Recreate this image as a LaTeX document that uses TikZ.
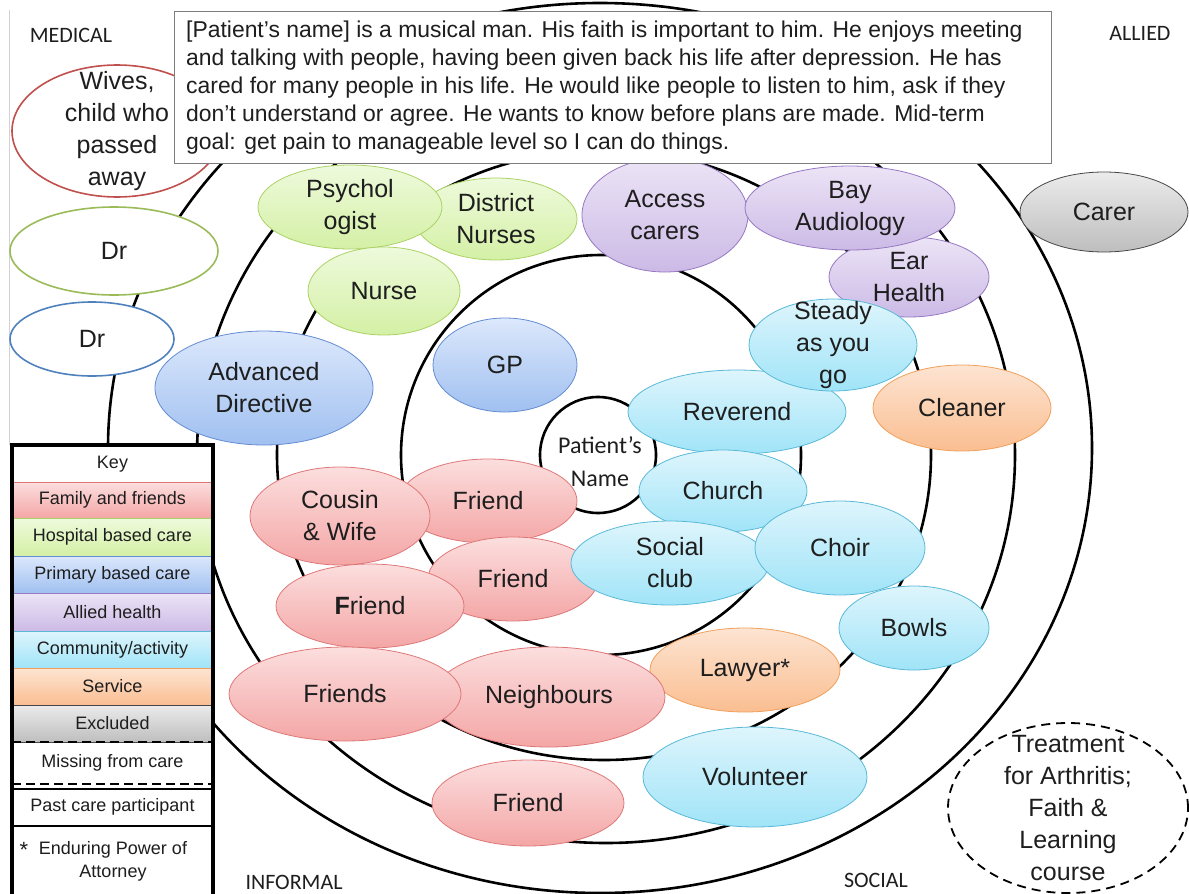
\documentclass[tikz,border=0pt]{standalone}
\usepackage{fontspec}
\setmainfont{Liberation Sans}
\newfontfamily\calfont{Carlito}
\usetikzlibrary{shapes.geometric}

\definecolor{famtop}{RGB}{252,222,222}
\definecolor{fambot}{RGB}{244,166,166}
\definecolor{famline}{RGB}{222,120,120}
\definecolor{hosptop}{RGB}{238,250,220}
\definecolor{hospbot}{RGB}{212,240,165}
\definecolor{hospline}{RGB}{170,210,100}
\definecolor{primtop}{RGB}{220,232,252}
\definecolor{primbot}{RGB}{160,192,240}
\definecolor{primline}{RGB}{100,140,210}
\definecolor{alltop}{RGB}{236,228,246}
\definecolor{allbot}{RGB}{204,186,230}
\definecolor{allline}{RGB}{150,120,195}
\definecolor{comtop}{RGB}{222,245,252}
\definecolor{combot}{RGB}{160,228,248}
\definecolor{comline}{RGB}{90,185,215}
\definecolor{servtop}{RGB}{253,228,210}
\definecolor{servbot}{RGB}{250,190,145}
\definecolor{servline}{RGB}{240,160,90}
\definecolor{excltop}{RGB}{235,235,235}
\definecolor{exclbot}{RGB}{190,190,190}
\definecolor{exclline}{RGB}{70,70,70}
\definecolor{pastred}{RGB}{192,80,77}
\definecolor{pastgreen}{RGB}{155,187,89}
\definecolor{pastblue}{RGB}{79,129,189}
\definecolor{boxgray}{RGB}{125,125,125}
\definecolor{inktext}{RGB}{30,30,30}

\tikzset{
	ring/.style={line width=2.6pt},
	bub/.style={ellipse, inner sep=0pt, line width=0.8pt},
	bubtext/.style={align=center, inner sep=0pt, text=inktext, font=\fontsize{25}{32}\selectfont},
	famfill/.style={draw=famline, top color=famtop, bottom color=fambot},
	hospfill/.style={draw=hospline, top color=hosptop, bottom color=hospbot},
	primfill/.style={draw=primline, top color=primtop, bottom color=primbot},
	allfill/.style={draw=allline, top color=alltop, bottom color=allbot},
	comfill/.style={draw=comline, top color=comtop, bottom color=combot},
	servfill/.style={draw=servline, top color=servtop, bottom color=servbot},
	exclfill/.style={draw=exclline, top color=excltop, bottom color=exclbot},
	keytext/.style={inner sep=0pt, align=center, text=inktext, font=\fontsize{18}{23}\selectfont},
	tag/.style={inner sep=0pt, text=inktext, font=\calfont\fontsize{22}{26}\selectfont}
}

\def\ring(#1)(#2:#3){\draw[ring] (#1) ellipse (#2 and #3);}
\def\bubble[#1]#2(#3)(#4:#5)#6{\node[bub,#1,minimum width=#4pt,minimum height=#5pt] (#2) at (#3) {};
	\node[bubtext] (#2txt) at (#2) {#6};}
\def\keyrow(#1:#2)#3#4{\draw[#3, line width=0.8pt] (12,#1) rectangle (213,#2);
	\node[keytext] (key#3) at (112.5,{(#1+#2)/2}) {#4};}

\begin{document}
\begin{tikzpicture}[x=1pt,y=-1pt]
	\useasboundingbox (0,0) rectangle (1189,894);
	\draw[gray!35, line width=0.8pt] (9,10) -- (9,445);
	
	\ring(600,448)(492:445)
	\ring(606,455)(409:388)
	\ring(604,455)(327:305)
	\ring(601,455)(200:200)
	\node[draw, circle, line width=2.6pt, minimum size=116pt, inner sep=0pt] (patient) at (598,455) {};
	\node[align=center, inner sep=0pt, text=inktext, font=\calfont\fontsize{24}{33}\selectfont] (patienttxt) at (600,462) {Patient’s\\Name};
	
	\bubble[draw=pastred, fill=white, line width=1.6pt]{wives}(117,131)(210:132){Wives,\\child who\\passed\\away}
	\bubble[draw=pastgreen, fill=white, line width=1.6pt]{drhosp}(114,251)(208:88){Dr}
	\bubble[draw=pastblue, fill=white, line width=1.6pt]{drprim}(92,339)(164:74){Dr}
	
	\bubble[hospfill]{distnurse}(496,219)(162:82){District\\Nurses}
	\bubble[hospfill]{psych}(350,207)(184:84){Psychol\\ogist}
	\bubble[hospfill]{nurse}(384,291)(152:88){Nurse}
	\bubble[primfill]{advdir}(264,388)(218:114){Advanced\\Directive}
	\bubble[primfill]{gp}(505,365)(144:94){GP}
	
	\bubble[allfill]{access}(665,215)(166:114){Access\\carers}
	\bubble[allfill]{ear}(909,277)(160:80){Ear\\Health}
	\bubble[allfill]{bay}(850,208)(210:84){Bay\\Audiology}
	\bubble[exclfill]{carer}(1104,212)(168:80){Carer}
	\bubble[servfill]{cleaner}(962,408)(178:86){Cleaner}
	
	\bubble[comfill]{reverend}(737,412)(218:84){Reverend}
	\bubble[comfill]{steady}(833,345)(168:92){Steady\\as you\\go}
	\bubble[comfill]{church}(723,491)(168:82){Church}
	
	\bubble[famfill]{friendc}(488,501)(178:84){Friend}
	\bubble[famfill]{cousin}(340,516)(180:98){Cousin\\\& Wife}
	\bubble[famfill]{friendb}(513,579)(170:84){Friend}
	\bubble[comfill]{social}(670,563)(198:84){Social\\club}
	\bubble[comfill]{choir}(840,548)(170:94){Choir}
	\bubble[comfill]{bowls}(914,628)(150:84){Bowls}
	\bubble[famfill]{frienda}(370,606)(188:84){\textbf{F}riend}
	\bubble[servfill]{lawyer}(745,670)(190:84){Lawyer*}
	\bubble[famfill]{neighbours}(549,697)(232:100){Neighbours}
	\bubble[famfill]{friends}(345,694)(232:94){Friends}
	\bubble[famfill]{friendd}(528,803)(192:86){Friend}
	\bubble[comfill]{volunteer}(755,777)(224:100){Volunteer}
	
	\bubble[draw=black, line width=1.8pt, dash pattern=on 9pt off 6pt]{treatment}(1068,808)(240:170){Treatment\\for Arthritis;\\Faith \&\\Learning\\course}
	
	\node[draw=boxgray, fill=white, line width=1.2pt, anchor=north west, minimum width=877pt, minimum height=152pt, inner sep=0pt] (story) at (174,11) {};
	\node[anchor=north west, align=left, inner sep=0pt, text=inktext, font=\fontsize{22.9}{28}\selectfont] (storytxt) at (186,21) {[Patient's name] is a musical man. His faith is important to him. He enjoys meeting\\
		and talking with people, having been given back his life after depression. He has\\
		cared for many people in his life. He would like people to listen to him, ask if they\\
		don’t understand or agree. He wants to know before plans are made. Mid-term\\
		goal: get pain to manageable level so I can do things.};
	
	\node[tag] (medical) at (71,35) {MEDICAL};
	\node[tag] (alliedtag) at (1140,33) {ALLIED};
	\node[tag] (informal) at (294,882) {INFORMAL};
	\node[tag] (socialtag) at (876,880) {SOCIAL};
	
	\fill[white] (12,445) rectangle (213,900);
	\node[keytext] (keyhead) at (112.5,464) {Key};
	\keyrow(482:518){famfill}{Family and friends}
	\keyrow(518:556){hospfill}{Hospital based care}
	\keyrow(556:593){primfill}{Primary based care}
	\keyrow(593:631){allfill}{Allied health}
	\keyrow(631:668){comfill}{Community/activity}
	\keyrow(668:705){servfill}{Service}
	\keyrow(705:742){exclfill}{Excluded}
	\draw[line width=1.5pt, dash pattern=on 9pt off 5pt] (12,742) -- (213,742);
	\draw[line width=2.5pt, dash pattern=on 9pt off 5pt] (12,784) -- (213,784);
	\node[keytext] (keymiss) at (112.5,763) {Missing from care};
	\draw[line width=2pt] (12,789) -- (213,789);
	\draw[line width=1.5pt] (12,826) -- (213,826);
	\node[keytext] (keypast) at (112.5,807) {Past care participant};
	\node[inner sep=0pt, text=inktext, font=\fontsize{22}{24}\selectfont] (keystar) at (24,850) {*};
	\node[keytext] (keyepa) at (113,861) {Enduring Power of\\Attorney};
	\draw[line width=4pt] (12,445) rectangle (213,900);
\end{tikzpicture}
\end{document}
